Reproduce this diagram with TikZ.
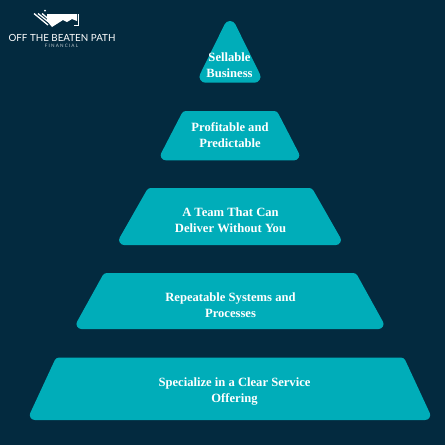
\documentclass[tikz,border=0pt]{standalone}
\usepackage{fontspec}
\setmainfont{Liberation Serif}
\newfontfamily\logofont{Lato}
\definecolor{bgc}{HTML}{032A3F}
\definecolor{teal1}{HTML}{00ADB9}
\tikzset{
  tier/.style={fill=teal1,draw=teal1,line width=10pt,line join=round},
  lab/.style={font=\fontsize{12.6}{16}\selectfont\bfseries,text=white,align=center,inner sep=0pt},
}
% args: top-left x, top-right x, top y, bottom-left x, bottom-right x, bottom y; fillet radius 5
\newcommand{\tiershape}[6]{%
  \pgfmathsetmacro{\slp}{(#1-#4)/(#6-#3)}%
  \pgfmathsetmacro{\hof}{5*sqrt(1+\slp*\slp)}%
  \path[tier] ({#1-\slp*5+\hof},{#3+5}) -- ({#2+\slp*5-\hof},{#3+5}) -- ({#5-\slp*5-\hof},{#6-5}) -- ({#4+\slp*5+\hof},{#6-5}) -- cycle;
}
\begin{document}
\begin{tikzpicture}[x=1pt,y=-1pt]
\fill[bgc] (0,0) rectangle (445,445);
\useasboundingbox (0,0) rectangle (445,445);
\path[tier,line width=12pt] (230,27) -- (254.5,76.7) -- (205.5,76.7) -- cycle;
\tiershape{183}{277}{111}{157.5}{302.5}{160.3}
\tiershape{148}{312}{188}{115.5}{344.5}{245}
\tiershape{104}{356}{273}{73}{387}{329}
\tiershape{56}{404}{357.5}{27}{433}{420}
\node[lab] (t1) at (229.5,65) {Sellable\\Business};
\node[lab] (t2) at (230,135) {Profitable and\\Predictable};
\node[lab] (t3) at (230.5,220) {A Team That Can\\Deliver Without You};
\node[lab] (t4) at (230.5,305) {Repeatable Systems and\\Processes};
\node[lab] (t5) at (234.5,391.5) {Specialize in a Clear Service\\Offering};
% logo
\fill[white] (47,14) -- (77,14) -- (77,21) -- (72,19) -- (67,22) -- (63,20) -- (52,27) -- (47,21) -- cycle;
\draw[white,line width=1.3pt] (34,13.5) -- (48,25) (38,13.5) -- (48,21.5) (42,13.5) -- (48,18.5);
\fill[white] (45,10.5) circle (1pt);
\draw[white,line width=0.5pt] (74,25) -- (78,25) -- (78,14);
\node[inner sep=0pt,text=white,font=\logofont\fontsize{9.8}{10}\selectfont] (logo) at (62,37.5) {OFF THE BEATEN PATH};
\node[inner sep=0pt,text=white!75!bgc,font=\logofont\fontsize{4.6}{5}\selectfont] (logo2) at (61.5,45.5) {F I N A N C I A L};
\end{tikzpicture}
\end{document}
